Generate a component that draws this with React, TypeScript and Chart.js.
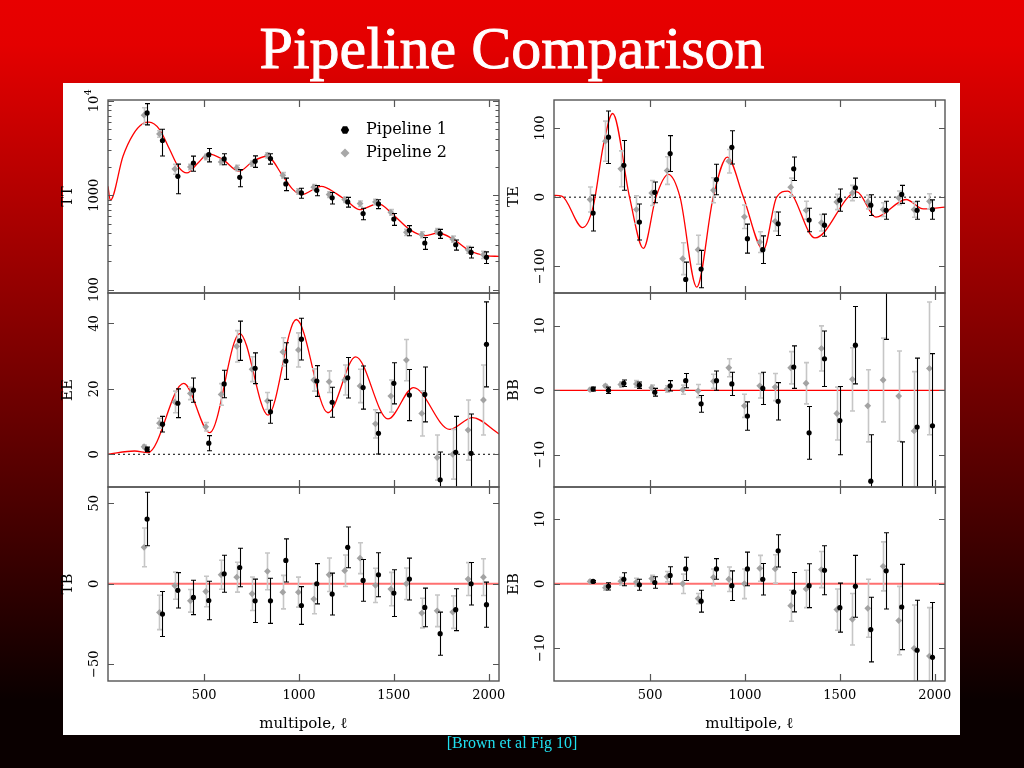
import React, { useEffect, useRef } from "react";
import { Chart, registerables } from "chart.js";
Chart.register(...registerables);

// ---------- shared axis data ----------
const X_MIN = -6;
const X_MAX = 2054;
const X_TICKS = [500, 1000, 1500, 2000];
const X_TICK_LABELS = ["500", "1000", "1500", "2000"];
const X_TITLE = "multipole, \u2113";

const ELL_P1 = [200, 281, 362, 444, 525, 606, 688, 769, 850, 931, 1013, 1094, 1175, 1257, 1338, 1419, 1500, 1582, 1663, 1744, 1826, 1907, 1988];
const ELL_P2 = [184, 265, 346, 428, 509, 590, 672, 753, 834, 915, 997, 1078, 1159, 1241, 1322, 1403, 1484, 1566, 1647, 1728, 1810, 1891, 1972];

const SERIES_NAMES = ["Pipeline 1", "Pipeline 2"];

// ---------- TT ----------
const TT_P1 = [7480, 3810, 1590, 2200, 2700, 2430, 1550, 2300, 2450, 1320, 1060, 1130, 940, 850, 640, 810, 560, 425, 312, 392, 299, 248, 220];
const TT_P1_ERR = [1900, 1200, 550, 400, 440, 325, 320, 320, 310, 200, 130, 140, 130, 100, 90, 88, 80, 52, 45, 43, 37, 32, 31];
const TT_P2 = [7070, 4480, 1900, 2000, 2550, 2260, 1950, 2170, 2660, 1630, 1100, 1220, 1020, 900, 816, 850, 660, 405, 382, 415, 344, 265, 234];
const TT_P2_ERR = [1400, 350, 230, 130, 170, 150, 130, 140, 170, 110, 75, 80, 70, 60, 55, 55, 45, 30, 28, 28, 25, 22, 20];
const TT_MODEL_ELL = [-6, 6, 73, 126, 178, 210, 266, 319, 363, 410, 468, 522, 600, 684, 758, 832, 916, 969, 1013, 1118, 1197, 1255, 1320, 1418, 1496, 1584, 1663, 1733, 1812, 1900, 1987, 2054];
const TT_MODEL = [1246, 885, 2600, 4410, 5770, 5960, 4980, 3055, 2030, 1727, 2204, 2748, 2392, 1798, 2296, 2596, 1591, 1148, 1016, 1246, 1041, 864, 704, 816, 623, 432, 373, 398, 344, 258, 229, 225];
const TT_TICKS = [100, 1000, 10000];
const TT_TICK_LABELS = ["100", "1000", "10^4"];
const TT_MINOR = [200, 300, 400, 500, 600, 700, 800, 900, 2000, 3000, 4000, 5000, 6000, 7000, 8000, 9000];

// ---------- TE ----------
const TE_P1 = [-23, 86.7, 46, -36, 7, 63, -119, -104, 25.5, 72, -60, -76, -38.5, 41, -33, -40.5, -4.3, 13.5, -11.6, -19, 4, -19, -18];
const TE_P1_ERR = [26, 38, 36, 26, 15, 26, 25, 27, 22, 24, 21, 20, 17, 17, 17, 16, 16, 14, 15, 13, 13, 13, 14];
const TE_P2 = [-3.4, 81, 41, -18, 6, 38.5, -89, -76, 10, 52, -28.4, -65, -35, 14.5, -19, -37, -7, 6, -7, -18, -1, -18, -6];
const TE_P2_ERR = [18, 29, 26, 20, 18, 20, 23, 21, 18, 17, 17, 15, 14, 13, 13, 12, 11, 11, 10, 10, 10, 11, 11];
const TE_MODEL_ELL = [-6, 35, 145, 201, 254, 303, 392, 465, 531, 596, 658, 746, 833, 907, 992, 1097, 1167, 1225, 1369, 1589, 1690, 1849, 1940, 2054];
const TE_MODEL = [2.5, 1.5, -44, -13, 75, 121, 0, -74, 0, 33, 0, -130, 0, 58, 0, -76, 0, 8.7, -59, 7.7, -29, -3.4, -17, -14.5];
const TE_TICKS = [-100, 0, 100];
const TE_TICK_LABELS = ["\u2212100", "0", "100"];

// ---------- EE ----------
const EE_P1 = [1.5, 9.2, 15.6, 19.6, 3.4, 21.5, 34.7, 26.3, 13, 28.5, 35.2, 22.4, 15.9, 23.4, 20.4, 6.4, 21.7, 18.1, 18.3, -7.8, 0.6, 0.3, 33.6];
const EE_P1_ERR = [0.7, 2.4, 4.4, 3.7, 2.3, 4.2, 6, 4.7, 3.5, 5.6, 6.4, 4.7, 4.6, 6.2, 6.6, 6.3, 6.3, 7.8, 8.4, 8.5, 11, 12, 13];
const EE_P2 = [2.3, 9.5, 16, 18.6, 8.4, 18.3, 33, 26, 16.3, 31.3, 31.9, 22.7, 22.2, 22.7, 20.9, 9.3, 17.8, 28.8, 12.5, -1, 0, 7.4, 16.6];
const EE_P2_ERR = [0.5, 1.5, 3.3, 1.9, 1.3, 3.3, 4.8, 3.8, 2.6, 4.3, 5.2, 3.4, 3.3, 4.6, 5.1, 4.3, 4.9, 6.3, 6.9, 6.9, 7.6, 9.2, 10.7];
const EE_MODEL_ELL = [-6, 134, 205, 393, 530, 688, 837, 986, 1153, 1299, 1469, 1604, 1794, 1914, 2054];
const EE_MODEL = [0, 1.0, 0.5, 21.7, 6.6, 36.9, 12, 41.2, 12.7, 29.8, 10.8, 20.4, 7.6, 11.2, 6.2];
const EE_TICKS = [0, 20, 40];
const EE_TICK_LABELS = ["0", "20", "40"];

// ---------- BB ----------
const BB_P1 = [0.2, 0, 1.1, 0.8, -0.3, 0.7, 1.5, -2.1, 1.5, 1.0, -4.0, 0.3, -1.7, 3.6, -6.6, 4.9, -4.7, 7.0, -14.1, 16.5, -17, -5.7, -5.5];
const BB_P1_ERR = [0.3, 0.5, 0.5, 0.5, 0.6, 0.8, 1.1, 1.3, 1.5, 1.8, 2.2, 2.5, 2.9, 3.3, 4.1, 4.3, 5.3, 6, 7.2, 8.6, 9, 10.7, 11.2];
const BB_P2 = [0.1, 0.7, 0.9, 1.0, 0.4, 0.2, 0.1, -0.1, 1.4, 3.5, -2.4, 0.7, 0.5, 3.5, 1.1, 6.5, -3.6, 1.7, -2.4, 1.6, -0.9, -6.3, 3.4];
const BB_P2_ERR = [0.2, 0.2, 0.4, 0.5, 0.4, 0.5, 0.7, 1.0, 1.1, 1.4, 1.8, 1.9, 2.1, 2.5, 3.2, 3.5, 4.1, 4.9, 5.6, 6.5, 7.0, 9.2, 10.3];
const BB_TICKS = [-10, 0, 10];
const BB_TICK_LABELS = ["\u221210", "0", "10"];

// ---------- TB ----------
const TB_P1 = [40.2, -18.8, -4.1, -8.5, -10.4, 6.2, 10.1, -10.6, -10.6, 14.5, -13.5, 0, -6.4, 22.6, 2.1, 5.6, -5.8, 2.9, -14.7, -31, -16.1, 0, -13];
const TB_P1_ERR = [16.6, 14, 11, 10.7, 12, 11.5, 12, 13.5, 14, 13.4, 11.7, 12.5, 13, 12.7, 13, 13.7, 14.5, 13, 12, 13.4, 13, 13.2, 14];
const TB_P2 = [22.6, -17.8, -1.2, -10.6, -4.8, 5.6, 4.1, -6.2, 7.7, -5.2, -5.2, -9.5, 5.6, 8.1, 15.9, -1, -3.3, 0, -18.2, -16.8, -17.6, 2.9, 4.1];
const TB_P2_ERR = [12, 10.7, 8.4, 7, 9.5, 9, 9.3, 10.4, 11.4, 10.4, 9.3, 9.1, 10.4, 9.8, 9.6, 10.6, 10.4, 9.8, 9.2, 9.8, 10.1, 10.2, 11.4];
const TB_TICKS = [-50, 0, 50];
const TB_TICK_LABELS = ["\u221250", "0", "50"];

// ---------- EB ----------
const EB_P1 = [0.36, -0.4, 0.7, -0.15, 0.2, 1.3, 2.3, -2.7, 2.3, -0.3, 2.3, 0.7, 5.1, -1.3, -0.3, 2.1, -3.7, -0.4, -7.1, 2.0, -3.6, -10.3, -11.4];
const EB_P1_ERR = [0.15, 0.57, 1.0, 0.85, 0.9, 1.34, 1.8, 1.7, 1.6, 2.3, 2.6, 2.45, 2.5, 3.05, 3.4, 3.8, 3.8, 4.8, 5.0, 5.9, 6.6, 7.75, 8.5];
const EB_P2 = [0.36, -0.6, 0.4, 0.26, 0.8, 1.1, 0, -2.3, 1.0, 0.7, 0, 2.4, 2.3, -3.4, -0.8, 2.2, -4, -5.5, -3.8, 2.7, -5.7, -10, -11.2];
const EB_P2_ERR = [0.2, 0.4, 0.6, 0.6, 0.5, 0.8, 1.5, 0.8, 1.3, 1.9, 2.3, 2.0, 2.2, 2.4, 2.9, 2.8, 3.2, 4.0, 4.5, 3.8, 5.3, 6.7, 7.5];
const EB_TICKS = [-10, 0, 10];
const EB_TICK_LABELS = ["\u221210", "0", "10"];

// ---------- styling ----------
const FONT_FAMILY = '"DejaVu Serif", serif';
const TICK_FONT = `13px ${FONT_FAMILY}`;
const SUP_FONT = `9.5px ${FONT_FAMILY}`;
const TITLE_FONT = `15px ${FONT_FAMILY}`;
const LEGEND_FONT = `16px ${FONT_FAMILY}`;
const FRAME_COLOR = "#555";

type PanelCfg = {
  name: string;
  area: { left: number; top: number; right: number; bottom: number };
  log?: boolean;
  yMin: number;
  yMax: number;
  yTicks: number[];
  yTickLabels: string[];
  yMinor?: number[];
  p1: number[];
  p1e: number[];
  p2: number[];
  p2e: number[];
  modelEll?: number[];
  model?: number[];
  zero?: "dotted" | "red" | "pink";
  xLabels: boolean;
  legend?: boolean;
};

const COL_L = { left: 108, right: 499 };
const COL_R = { left: 554, right: 945 };
const ROW1 = { top: 100, bottom: 293 };
const ROW2 = { top: 293, bottom: 487 };
const ROW3 = { top: 487, bottom: 681 };

const PANELS: PanelCfg[] = [
  { name: "TT", area: { ...COL_L, ...ROW1 }, log: true, yMin: 92, yMax: 10250, yTicks: TT_TICKS, yTickLabels: TT_TICK_LABELS, yMinor: TT_MINOR, p1: TT_P1, p1e: TT_P1_ERR, p2: TT_P2, p2e: TT_P2_ERR, modelEll: TT_MODEL_ELL, model: TT_MODEL, xLabels: false, legend: true },
  { name: "TE", area: { ...COL_R, ...ROW1 }, yMin: -138.6, yMax: 140.5, yTicks: TE_TICKS, yTickLabels: TE_TICK_LABELS, p1: TE_P1, p1e: TE_P1_ERR, p2: TE_P2, p2e: TE_P2_ERR, modelEll: TE_MODEL_ELL, model: TE_MODEL, zero: "dotted", xLabels: false },
  { name: "EE", area: { ...COL_L, ...ROW2 }, yMin: -10, yMax: 49.3, yTicks: EE_TICKS, yTickLabels: EE_TICK_LABELS, p1: EE_P1, p1e: EE_P1_ERR, p2: EE_P2, p2e: EE_P2_ERR, modelEll: EE_MODEL_ELL, model: EE_MODEL, zero: "dotted", xLabels: false },
  { name: "BB", area: { ...COL_R, ...ROW2 }, yMin: -15.0, yMax: 15.1, yTicks: BB_TICKS, yTickLabels: BB_TICK_LABELS, p1: BB_P1, p1e: BB_P1_ERR, p2: BB_P2, p2e: BB_P2_ERR, zero: "red", xLabels: false },
  { name: "TB", area: { ...COL_L, ...ROW3 }, yMin: -60.4, yMax: 60.1, yTicks: TB_TICKS, yTickLabels: TB_TICK_LABELS, p1: TB_P1, p1e: TB_P1_ERR, p2: TB_P2, p2e: TB_P2_ERR, zero: "pink", xLabels: true },
  { name: "EB", area: { ...COL_R, ...ROW3 }, yMin: -15.07, yMax: 15.0, yTicks: EB_TICKS, yTickLabels: EB_TICK_LABELS, p1: EB_P1, p1e: EB_P1_ERR, p2: EB_P2, p2e: EB_P2_ERR, zero: "pink", xLabels: true },
];

const ML = 56, MR = 12, MT = 18;

function makePlugin(cfg: PanelCfg) {
  return {
    id: "panelDecor" + cfg.name,
    beforeDatasetDraw(chart: any, args: any) {
      const ds = chart.data.datasets[args.index];
      if (!ds.errs) return;
      const ctx = chart.ctx;
      const a = chart.chartArea;
      const xs = chart.scales.x;
      const ys = chart.scales.y;
      ctx.save();
      ctx.beginPath();
      ctx.rect(a.left, a.top, a.right - a.left, a.bottom - a.top);
      ctx.clip();
      ctx.strokeStyle = ds.errColor;
      ctx.lineWidth = ds.errWidth;
      ds.data.forEach((p: any, i: number) => {
        const e = ds.errs[i];
        const x = Math.round(xs.getPixelForValue(p.x)) + 0.5;
        let lo = p.y - e;
        const hi = p.y + e;
        if (cfg.log && lo <= 0) lo = cfg.yMin / 2;
        const y1 = ys.getPixelForValue(hi);
        const y2 = ys.getPixelForValue(lo);
        const c = ds.capHalf;
        ctx.beginPath();
        ctx.moveTo(x, y1);
        ctx.lineTo(x, y2);
        ctx.moveTo(x - c, y1);
        ctx.lineTo(x + c, y1);
        ctx.moveTo(x - c, y2);
        ctx.lineTo(x + c, y2);
        ctx.stroke();
      });
      ctx.restore();
    },
    afterDraw(chart: any) {
      const ctx = chart.ctx;
      const a = chart.chartArea;
      const xs = chart.scales.x;
      const ys = chart.scales.y;
      ctx.save();
      // frame
      ctx.strokeStyle = FRAME_COLOR;
      ctx.lineWidth = 1.4;
      ctx.strokeRect(a.left, a.top, a.right - a.left, a.bottom - a.top);
      // ticks
      ctx.lineWidth = 1.2;
      ctx.beginPath();
      for (const t of X_TICKS) {
        const x = Math.round(xs.getPixelForValue(t)) + 0.5;
        ctx.moveTo(x, a.bottom);
        ctx.lineTo(x, a.bottom - 7);
        ctx.moveTo(x, a.top);
        ctx.lineTo(x, a.top + 7);
      }
      for (const t of cfg.yTicks) {
        const y = Math.round(ys.getPixelForValue(t)) + 0.5;
        ctx.moveTo(a.left, y);
        ctx.lineTo(a.left + 6, y);
        ctx.moveTo(a.right, y);
        ctx.lineTo(a.right - 6, y);
      }
      for (const t of cfg.yMinor || []) {
        const y = Math.round(ys.getPixelForValue(t)) + 0.5;
        ctx.moveTo(a.left, y);
        ctx.lineTo(a.left + 3.5, y);
        ctx.moveTo(a.right, y);
        ctx.lineTo(a.right - 3.5, y);
      }
      ctx.stroke();

      // y tick labels (rotated)
      ctx.fillStyle = "#000";
      ctx.textAlign = "center";
      ctx.textBaseline = "middle";
      cfg.yTicks.forEach((t, i) => {
        const y = ys.getPixelForValue(t);
        const lab = cfg.yTickLabels[i];
        ctx.save();
        ctx.translate(a.left - 13.5, y);
        ctx.rotate(-Math.PI / 2);
        if (lab.includes("^")) {
          const [base, sup] = lab.split("^");
          ctx.font = TICK_FONT;
          const w1 = ctx.measureText(base).width;
          ctx.font = SUP_FONT;
          const w2 = ctx.measureText(sup).width;
          const x0 = -(w1 + w2) / 2;
          ctx.textAlign = "left";
          ctx.font = TICK_FONT;
          ctx.fillText(base, x0, 0);
          ctx.font = SUP_FONT;
          ctx.fillText(sup, x0 + w1 + 0.5, -5.5);
        } else {
          ctx.font = TICK_FONT;
          ctx.fillText(lab, 0, 0);
        }
        ctx.restore();
      });

      // y title
      ctx.save();
      ctx.font = TITLE_FONT;
      ctx.translate(a.left - 40, (a.top + a.bottom) / 2);
      ctx.rotate(-Math.PI / 2);
      ctx.textAlign = "center";
      ctx.textBaseline = "middle";
      ctx.fillText(cfg.name, 0, 0);
      ctx.restore();

      // x labels
      if (cfg.xLabels) {
        ctx.font = TICK_FONT;
        ctx.textAlign = "center";
        ctx.textBaseline = "middle";
        X_TICKS.forEach((t, i) => {
          ctx.fillText(X_TICK_LABELS[i], xs.getPixelForValue(t), a.bottom + 15);
        });
        ctx.font = TITLE_FONT;
        ctx.fillText(X_TITLE, (a.left + a.right) / 2, a.bottom + 43);
      }

      // legend
      if (cfg.legend) {
        const mx = a.left + 237;
        const r1 = a.top + 30;
        const r2 = a.top + 53;
        ctx.fillStyle = "#000";
        ctx.beginPath();
        for (let k = 0; k < 6; k++) {
          const ang = (Math.PI / 3) * k;
          const px = mx + 4.2 * Math.cos(ang);
          const py = r1 + 4.2 * Math.sin(ang);
          if (k === 0) ctx.moveTo(px, py);
          else ctx.lineTo(px, py);
        }
        ctx.closePath();
        ctx.fill();
        ctx.fillStyle = "#a8a8a8";
        ctx.beginPath();
        ctx.moveTo(mx, r2 - 4.5);
        ctx.lineTo(mx + 4.5, r2);
        ctx.lineTo(mx, r2 + 4.5);
        ctx.lineTo(mx - 4.5, r2);
        ctx.closePath();
        ctx.fill();
        ctx.fillStyle = "#000";
        ctx.font = LEGEND_FONT;
        ctx.textAlign = "left";
        ctx.textBaseline = "middle";
        ctx.fillText(SERIES_NAMES[0], a.left + 258, r1);
        ctx.fillText(SERIES_NAMES[1], a.left + 258, r2);
      }
      ctx.restore();
    },
  };
}

function Panel({ cfg }: { cfg: PanelCfg }) {
  const ref = useRef<HTMLCanvasElement>(null);
  const MB = cfg.xLabels ? 62 : 16;
  const W = cfg.area.right - cfg.area.left + ML + MR;
  const H = cfg.area.bottom - cfg.area.top + MT + MB;

  useEffect(() => {
    if (!ref.current) return;
    const datasets: any[] = [];
    datasets.push({
      type: "scatter",
      label: SERIES_NAMES[0],
      data: ELL_P1.map((x, i) => ({ x, y: cfg.p1[i] })),
      errs: cfg.p1e,
      errColor: "#000",
      errWidth: 1.1,
      capHalf: 2.5,
      pointStyle: "circle",
      pointRadius: 2.6,
      backgroundColor: "#000",
      borderWidth: 0,
      order: 0,
    });
    datasets.push({
      type: "scatter",
      label: SERIES_NAMES[1],
      data: ELL_P2.map((x, i) => ({ x, y: cfg.p2[i] })),
      errs: cfg.p2e,
      errColor: "#c6c6c6",
      errWidth: 1.6,
      capHalf: 2.5,
      pointStyle: "rectRot",
      pointRadius: 3.4,
      backgroundColor: "#a3a3a3",
      borderWidth: 0,
      order: 1,
    });
    if (cfg.model && cfg.modelEll) {
      datasets.push({
        type: "line",
        data: cfg.modelEll.map((x, i) => ({ x, y: cfg.model![i] })),
        borderColor: "#ff0000",
        borderWidth: 1.3,
        pointRadius: 0,
        cubicInterpolationMode: "monotone",
        fill: false,
        order: 2,
      });
    }
    if (cfg.zero) {
      const style =
        cfg.zero === "dotted"
          ? { borderColor: "#000", borderWidth: 1, borderDash: [2, 3] }
          : cfg.zero === "red"
          ? { borderColor: "#ff0000", borderWidth: 1.3 }
          : { borderColor: "#ff7070", borderWidth: 2 };
      datasets.push({
        type: "line",
        data: [
          { x: X_MIN, y: 0 },
          { x: X_MAX, y: 0 },
        ],
        pointRadius: 0,
        fill: false,
        order: 3,
        ...style,
      });
    }
    const chart = new Chart(ref.current, {
      type: "scatter",
      data: { datasets },
      options: {
        responsive: false,
        animation: false,
        devicePixelRatio: 1,
        events: [],
        layout: { padding: { left: ML, right: MR, top: MT, bottom: MB } },
        plugins: { legend: { display: false }, tooltip: { enabled: false } },
        scales: {
          x: { type: "linear", min: X_MIN, max: X_MAX, display: false },
          y: { type: cfg.log ? "logarithmic" : "linear", min: cfg.yMin, max: cfg.yMax, display: false },
        },
      } as any,
      plugins: [makePlugin(cfg) as any],
    });
    return () => chart.destroy();
  }, []);

  return (
    <canvas
      ref={ref}
      width={W}
      height={H}
      style={{
        position: "absolute",
        left: cfg.area.left - ML,
        top: cfg.area.top - MT,
        width: W,
        height: H,
      }}
    />
  );
}

export default function App() {
  return (
    <div
      style={{
        position: "absolute",
        left: 0,
        top: 0,
        width: 1024,
        height: 768,
        overflow: "hidden",
        background: "linear-gradient(to bottom, #e80000 0px, #e40000 45px, #0a0000 700px, #0a0000 768px)",
      }}
    >
      <div
        style={{
          position: "absolute",
          left: 0,
          top: 18,
          width: 1024,
          textAlign: "center",
          color: "#fff",
          font: '60px "Liberation Serif", serif',
          lineHeight: "60px",
          WebkitTextStroke: "0.9px #fff",
        }}
      >
        Pipeline Comparison
      </div>
      <div
        style={{
          position: "absolute",
          left: 63,
          top: 83,
          width: 897,
          height: 652,
          background: "#fff",
        }}
      />
      {PANELS.map((p) => (
        <Panel key={p.name} cfg={p} />
      ))}
      <div
        style={{
          position: "absolute",
          left: 0,
          top: 735,
          width: 1024,
          textAlign: "center",
          color: "#20e0f0",
          font: '16px "Liberation Serif", serif',
          lineHeight: "16px",
        }}
      >
        [Brown et al Fig 10]
      </div>
    </div>
  );
}
